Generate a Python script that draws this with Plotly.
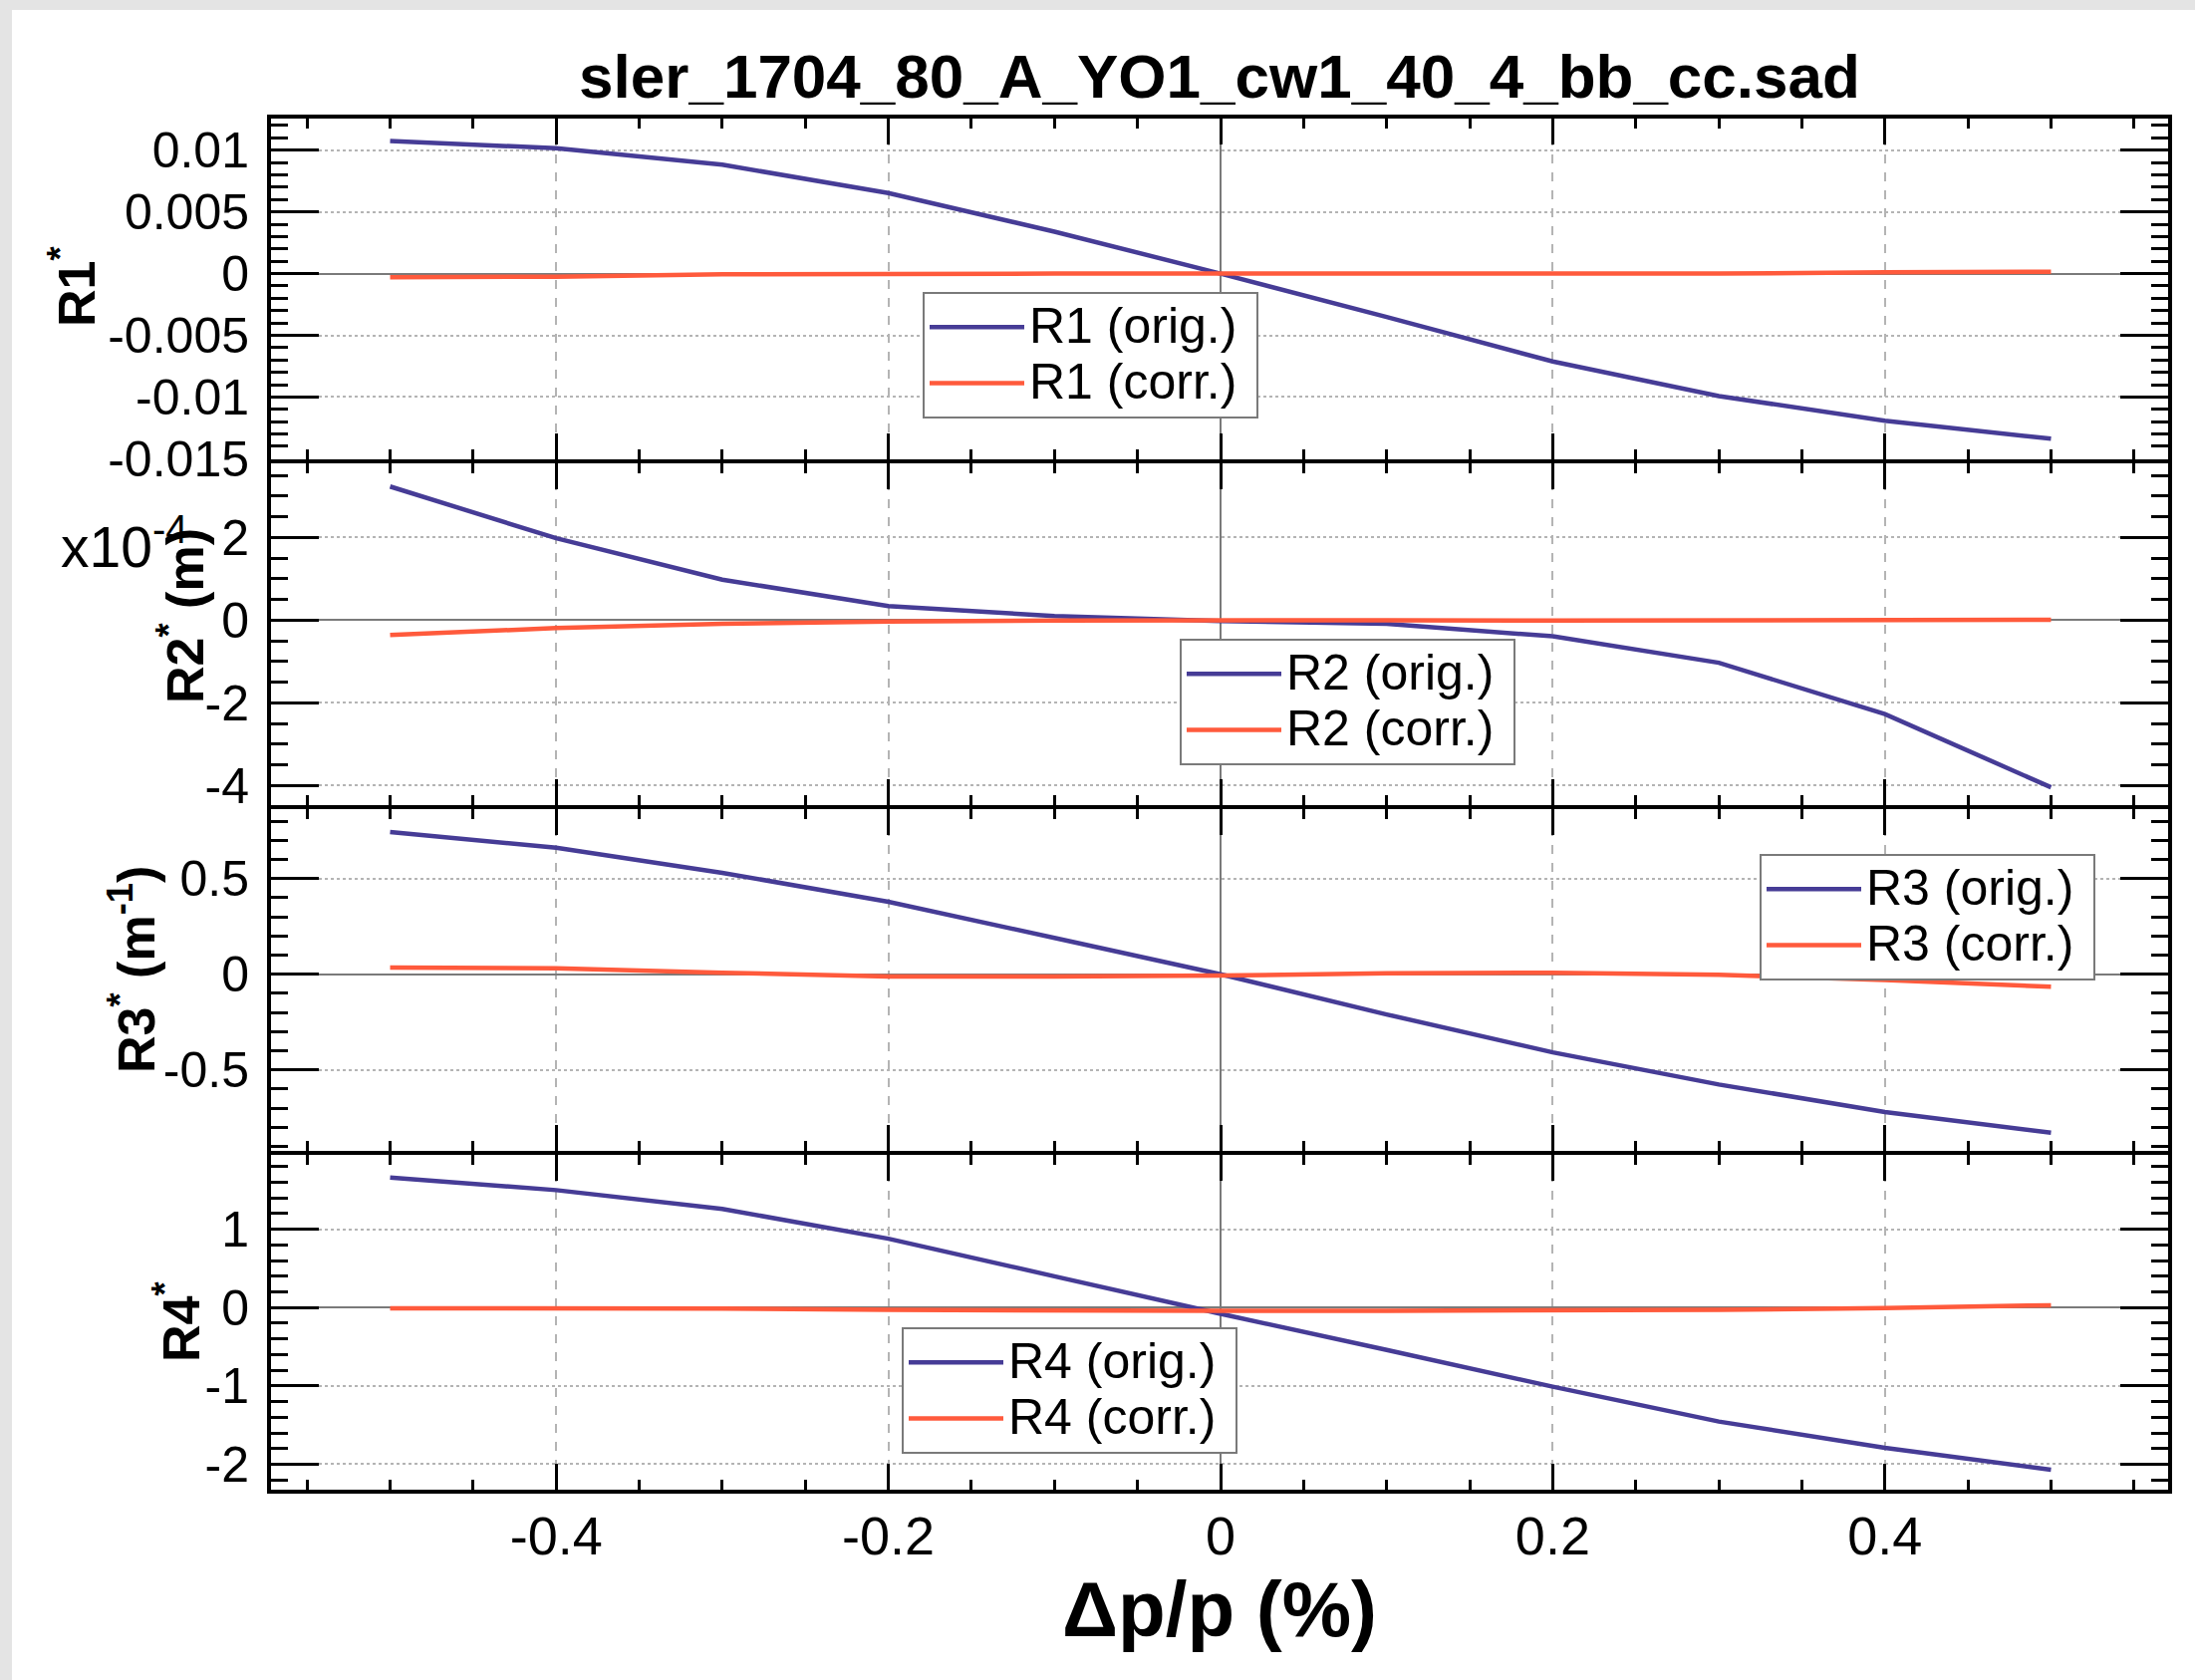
import plotly.graph_objects as go
from plotly.subplots import make_subplots

# ---------------- data ----------------
dpp = [-0.5, -0.4, -0.3, -0.2, -0.1, 0.0, 0.1, 0.2, 0.3, 0.4, 0.5]

r1_orig = [0.01074, 0.01016, 0.00882, 0.00653, 0.0034, 0.0, -0.00352, -0.00712, -0.00992, -0.01192, -0.01338]
r1_corr = [-0.0003, -0.00025, -0.00005, 0.0, 0.0, 0.0, 0.0, 0.0, 0.0, 0.0001, 0.00015]

# R2 in units of 1e-4 m
r2_orig = [3.23, 1.98, 0.98, 0.34, 0.10, -0.02, -0.09, -0.39, -1.03, -2.27, -4.04]
r2_corr = [-0.36, -0.19, -0.09, -0.03, -0.01, 0.0, 0.0, -0.01, -0.01, 0.0, 0.01]

r3_orig = [0.743, 0.661, 0.530, 0.379, 0.19, 0.0, -0.21, -0.408, -0.576, -0.72, -0.828]
r3_corr = [0.035, 0.031, 0.008, -0.012, -0.012, -0.007, 0.005, 0.008, -0.003, -0.03, -0.065]

r4_orig = [1.66, 1.50, 1.26, 0.88, 0.40, -0.08, -0.54, -1.01, -1.455, -1.79, -2.07]
r4_corr = [-0.01, -0.01, -0.012, -0.03, -0.04, -0.04, -0.04, -0.04, -0.03, -0.005, 0.03]

series_names = ["R1", "R2", "R3", "R4"]
orig_series = [r1_orig, r2_orig, r3_orig, r4_orig]
corr_series = [r1_corr, r2_corr, r3_corr, r4_corr]

y_titles = ["<b>R1<sup>*</sup></b>", "<b>R2<sup>*</sup> (m)</b>",
            "<b>R3<sup>*</sup> (m<sup>-1</sup>)</b>", "<b>R4<sup>*</sup></b>"]

y_tickvals = [[0.01, 0.005, 0, -0.005, -0.01, -0.015],
              [2, 0, -2, -4],
              [0.5, 0, -0.5],
              [1, 0, -1, -2]]
y_ticktext = [["0.01", "0.005", "0", "-0.005", "-0.01", "-0.015"],
              ["2", "0", "-2", "-4"],
              ["0.5", "0", "-0.5"],
              ["1", "0", "-1", "-2"]]
y_minor = [0.001, 0.5, 0.1, 0.2]
y_ranges = [[-0.01505, 0.01256], [-4.47, 3.79], [-0.923, 0.863], [-2.325, 1.95]]

x_tickvals = [-0.4, -0.2, 0, 0.2, 0.4]
x_ticktext = ["-0.4", "-0.2", "0", "0.2", "0.4"]
x_range = [-0.5717, 0.5705]

title_text = "sler_1704_80_A_YO1_cw1_40_4_bb_cc.sad"
x_title = "Δp/p (%)"
multiplier_text = "x10<sup>-4</sup>"

# ---------------- styling ----------------
FONT = "Liberation Sans, Arial, Helvetica, sans-serif"
C_ORIG = "#463c96"
C_CORR = "#ff5a3c"
GRID = "#b4b4b4"

W, H = 2203, 1686
ML, MR, MT, MB = 272, 27, 119, 191
PW, PH = W - ML - MR, H - MT - MB

# panel pixel extents (domain edges; 4px frame lines drawn just outside)
panel_px = [(119, 461), (465, 808), (812, 1155), (1159, 1495)]


def px_x(px):
    return (px - ML) / PW


def px_y(py):
    return 1 - (py - MT) / PH


def ydom(top, bot):
    return [px_y(bot), px_y(top)]


fig = make_subplots(rows=4, cols=1, shared_xaxes=True, vertical_spacing=0)

legend_names = ["legend", "legend2", "legend3", "legend4"]
LEG_TXT = '<span style="font-size:50px">{}\u00a0</span>'
for i in range(4):
    fig.add_trace(go.Scatter(x=dpp, y=orig_series[i], mode="lines",
                             name=LEG_TXT.format(series_names[i] + " (orig.)"),
                             line=dict(color=C_ORIG, width=4.5),
                             legend=legend_names[i]), row=i + 1, col=1)
    fig.add_trace(go.Scatter(x=dpp, y=corr_series[i], mode="lines",
                             name=LEG_TXT.format(series_names[i] + " (corr.)"),
                             line=dict(color=C_CORR, width=4.5),
                             legend=legend_names[i]), row=i + 1, col=1)

for i in range(4):
    fig.update_yaxes(row=i + 1, col=1,
                     domain=ydom(*panel_px[i]),
                     range=y_ranges[i], autorange=False,
                     tickmode="array", tickvals=y_tickvals[i], ticktext=y_ticktext[i],
                     ticks="inside", ticklen=48, tickwidth=3, tickcolor="black",
                     minor=dict(tickmode="linear", tick0=0, dtick=y_minor[i],
                                ticks="inside", ticklen=17, tickwidth=3,
                                tickcolor="black", showgrid=False),
                     showline=True, linewidth=4, linecolor="black", mirror="allticks",
                     showgrid=True, gridcolor=GRID, gridwidth=1.5, griddash="dot",
                     zeroline=True, zerolinecolor="#7a7a7a", zerolinewidth=2,
                     tickfont=dict(family=FONT, size=50, color="black"),
                     ticklabelstandoff=8)

for i in range(4):
    fig.update_xaxes(row=i + 1, col=1,
                     domain=[0, 1],
                     range=x_range, autorange=False,
                     tickmode="array", tickvals=x_tickvals, ticktext=x_ticktext,
                     ticks="inside", ticklen=26, tickwidth=3, tickcolor="black",
                     minor=dict(tickmode="linear", tick0=0, dtick=0.05,
                                ticks="inside", ticklen=10, tickwidth=3,
                                tickcolor="black", showgrid=False),
                     showline=True, linewidth=4, linecolor="black", mirror="allticks",
                     showgrid=True, gridcolor=GRID, gridwidth=1.5, griddash="dash",
                     zeroline=True, zerolinecolor="#7a7a7a", zerolinewidth=2,
                     tickfont=dict(family=FONT, size=54, color="black"),
                     ticklabelstandoff=-4)
fig.update_xaxes(row=4, col=1,
                 title=dict(text="<b>" + x_title + "</b>", standoff=18,
                            font=dict(family=FONT, size=78, color="black")))

# y-axis titles placed as rotated annotations (centre positions in px)
ytitle_pos = [(73, 288), (182, 618), (133, 973), (178, 1327)]
for i in range(4):
    fig.add_annotation(x=px_x(ytitle_pos[i][0]), y=px_y(ytitle_pos[i][1]),
                       xref="paper", yref="paper", text=y_titles[i], textangle=-90,
                       showarrow=False, xanchor="center", yanchor="middle",
                       font=dict(family=FONT, size=52, color="black"))

# multiplier annotation for R2 axis
fig.add_annotation(x=px_x(190), y=px_y(545), xref="paper", yref="paper",
                   text=multiplier_text, showarrow=False, xanchor="right", yanchor="middle",
                   font=dict(family=FONT, size=57, color="black"))

# legends (positions in paper fractions of the plot area)
leg_pos = [(926, 293), (1184, 641), (1766, 857), (905, 1332)]
leg_layout = {}
for i, name in enumerate(legend_names):
    leg_layout[name] = dict(x=px_x(leg_pos[i][0]), y=px_y(leg_pos[i][1]),
                            xanchor="left", yanchor="top",
                            bgcolor="white", bordercolor="#7a7a7a", borderwidth=2,
                            font=dict(family=FONT, size=41, color="black"),
                            itemwidth=95, tracegroupgap=0)
fig.update_layout(**leg_layout)

# light grey photo-frame edges on top and left
fig.add_shape(type="rect", xref="paper", yref="paper",
              x0=px_x(-5), x1=px_x(W + 5), y0=px_y(10), y1=px_y(-5),
              fillcolor="#e4e4e4", line=dict(width=0), layer="below")
fig.add_shape(type="rect", xref="paper", yref="paper",
              x0=px_x(-5), x1=px_x(12), y0=px_y(H + 5), y1=px_y(-5),
              fillcolor="#e4e4e4", line=dict(width=0), layer="below")

fig.update_layout(
    width=W, height=H,
    margin=dict(l=ML, r=MR, t=MT, b=MB, autoexpand=False),
    paper_bgcolor="white", plot_bgcolor="white",
    showlegend=True,
    font=dict(family=FONT, color="black"),
    title=dict(text="<b>" + title_text + "</b>", x=1224 / W, xanchor="center",
               y=1 - 76 / H, yanchor="middle",
               font=dict(family=FONT, size=62, color="black")),
)

fig.write_html("out.html", config={"displayModeBar": False},
               post_script="document.body.style.margin='0px';")
